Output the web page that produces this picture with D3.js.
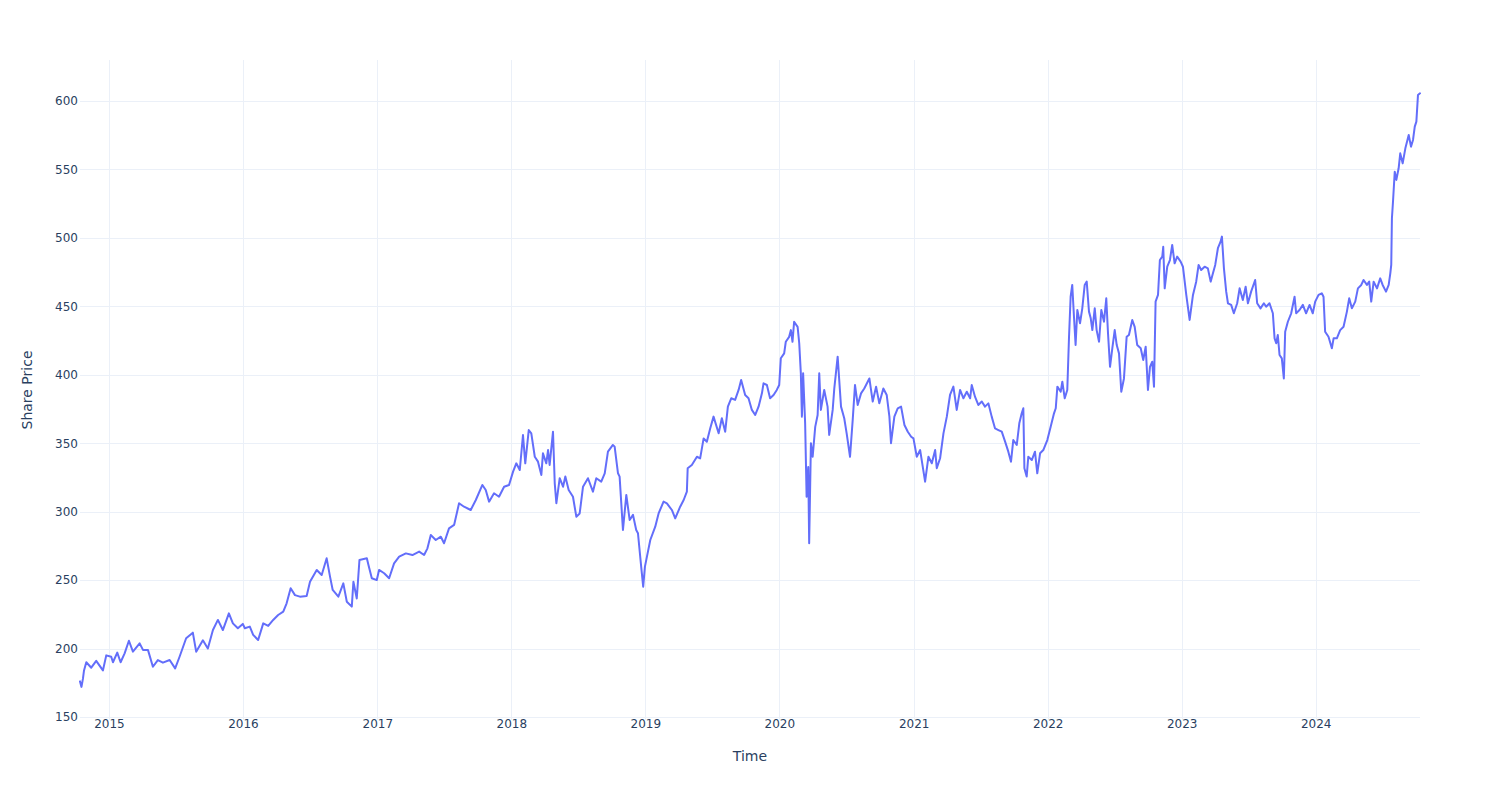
<!DOCTYPE html>
<html>
<head>
<meta charset="utf-8">
<script src="https://cdn.jsdelivr.net/npm/d3@7"></script>
<style>
  html, body { margin: 0; padding: 0; background: #fff; }
  svg { display: block; }
</style>
</head>
<body>
<svg id="chart" width="1500" height="800"></svg>
<script>
// Time as decimal years
const timeYears = [
2014.784,2014.795,2014.806,2014.814,2014.831,2014.868,2014.905,2014.955,2014.980,2015.017,
2015.030,2015.062,2015.087,2015.117,2015.149,2015.179,2015.229,2015.254,2015.291,2015.328,
2015.365,2015.403,2015.453,2015.494,2015.527,2015.576,2015.626,2015.651,2015.701,2015.738,
2015.776,2015.813,2015.850,2015.895,2015.925,2015.962,2015.999,2016.014,2016.051,2016.076,
2016.113,2016.151,2016.188,2016.225,2016.262,2016.300,2016.325,2016.355,2016.387,2016.424,
2016.474,2016.499,2016.549,2016.586,2016.623,2016.648,2016.668,2016.710,2016.747,2016.773,
2016.810,2016.822,2016.847,2016.867,2016.922,2016.934,2016.959,2016.996,2017.013,2017.051,
2017.088,2017.125,2017.163,2017.213,2017.262,2017.312,2017.349,2017.374,2017.399,2017.436,
2017.474,2017.498,2017.535,2017.573,2017.610,2017.647,2017.697,2017.735,2017.784,2017.809,
2017.834,2017.871,2017.908,2017.946,2017.983,2018.013,2018.037,2018.063,2018.087,2018.104,
2018.130,2018.149,2018.175,2018.199,2018.224,2018.236,2018.261,2018.274,2018.286,2018.311,
2018.324,2018.336,2018.361,2018.386,2018.403,2018.428,2018.460,2018.485,2018.510,2018.535,
2018.572,2018.609,2018.634,2018.671,2018.697,2018.721,2018.758,2018.771,2018.796,2018.808,
2018.833,2018.858,2018.883,2018.908,2018.932,2018.945,2018.969,2018.984,2018.997,2019.012,
2019.037,2019.074,2019.099,2019.136,2019.161,2019.198,2019.223,2019.260,2019.286,2019.310,
2019.316,2019.347,2019.385,2019.409,2019.435,2019.459,2019.484,2019.509,2019.547,2019.571,
2019.596,2019.616,2019.641,2019.670,2019.696,2019.715,2019.745,2019.770,2019.795,2019.820,
2019.845,2019.870,2019.882,2019.907,2019.931,2019.957,2019.981,2019.999,2020.011,2020.036,
2020.048,2020.073,2020.086,2020.098,2020.110,2020.136,2020.148,2020.160,2020.168,2020.177,
2020.192,2020.203,2020.215,2020.222,2020.235,2020.248,2020.267,2020.285,2020.297,2020.309,
2020.334,2020.359,2020.371,2020.397,2020.409,2020.434,2020.459,2020.483,2020.501,2020.526,
2020.546,2020.563,2020.583,2020.608,2020.632,2020.670,2020.695,2020.720,2020.744,2020.774,
2020.799,2020.819,2020.831,2020.856,2020.881,2020.906,2020.931,2020.956,2020.981,2020.998,
2021.023,2021.048,2021.085,2021.110,2021.135,2021.160,2021.172,2021.197,2021.222,2021.247,
2021.271,2021.296,2021.321,2021.346,2021.371,2021.396,2021.421,2021.433,2021.458,2021.482,
2021.508,2021.532,2021.557,2021.582,2021.607,2021.632,2021.657,2021.682,2021.706,2021.726,
2021.743,2021.769,2021.788,2021.806,2021.818,2021.826,2021.843,2021.855,2021.881,2021.905,
2021.922,2021.943,2021.967,2021.997,2022.022,2022.047,2022.060,2022.072,2022.097,2022.109,
2022.127,2022.146,2022.159,2022.171,2022.183,2022.196,2022.208,2022.221,2022.241,2022.258,
2022.276,2022.291,2022.308,2022.321,2022.333,2022.351,2022.365,2022.383,2022.400,2022.420,
2022.437,2022.450,2022.465,2022.482,2022.500,2022.515,2022.532,2022.549,2022.569,2022.589,
2022.606,2022.631,2022.649,2022.668,2022.694,2022.713,2022.731,2022.748,2022.763,2022.780,
2022.793,2022.805,2022.823,2022.837,2022.855,2022.862,2022.873,2022.892,2022.912,2022.929,
2022.947,2022.966,2022.992,2023.009,2023.034,2023.059,2023.084,2023.108,2023.126,2023.145,
2023.171,2023.195,2023.216,2023.233,2023.250,2023.270,2023.290,2023.300,2023.315,2023.332,
2023.345,2023.369,2023.389,2023.414,2023.432,2023.456,2023.477,2023.494,2023.518,2023.548,
2023.563,2023.588,2023.613,2023.630,2023.655,2023.680,2023.693,2023.705,2023.717,2023.730,
2023.747,2023.762,2023.772,2023.792,2023.817,2023.842,2023.854,2023.879,2023.904,2023.928,
2023.954,2023.978,2023.996,2024.021,2024.045,2024.058,2024.070,2024.095,2024.120,2024.133,
2024.157,2024.182,2024.207,2024.232,2024.249,2024.269,2024.294,2024.314,2024.339,2024.356,
2024.381,2024.398,2024.413,2024.431,2024.456,2024.480,2024.498,2024.523,2024.543,2024.555,
2024.562,2024.567,2024.575,2024.588,2024.600,2024.617,2024.629,2024.647,2024.667,2024.692,
2024.709,2024.724,2024.737,2024.749,2024.761,2024.776
];

// Share price values
const sharePrice = [
176.0,172.0,178.0,184.0,190.0,186.0,191.0,184.0,195.0,194.0,
190.0,197.0,190.0,196.5,205.7,197.7,203.8,199.0,199.0,186.7,
191.6,189.7,191.6,185.5,194.0,207.5,211.6,197.7,206.0,200.0,
213.5,220.9,213.5,225.7,218.4,214.8,218.0,214.8,216.0,210.0,
206.2,218.4,216.5,220.9,224.5,226.9,233.0,244.0,239.0,237.9,
238.4,248.8,257.4,253.7,265.9,252.5,242.8,237.9,247.6,234.2,
230.6,248.8,236.6,264.7,265.9,261.0,251.3,250.0,257.4,255.0,
251.3,262.2,267.1,269.5,268.3,270.8,268.3,273.2,282.9,279.3,
281.7,276.9,287.8,290.3,306.1,303.6,301.2,308.5,319.5,315.8,
307.3,313.4,310.9,318.2,319.5,329.2,335.3,330.4,356.0,335.3,
359.6,357.2,340.1,336.5,326.8,342.6,335.3,345.0,334.1,358.4,
320.7,306.1,324.4,318.2,325.6,315.8,310.9,296.3,298.7,318.2,
324.4,314.6,324.4,321.9,328.0,343.8,348.7,347.5,328.0,325.6,
286.6,312.2,293.9,297.6,286.6,284.2,259.8,245.2,259.8,267.1,
279.3,289.0,298.7,307.3,306.1,301.2,295.1,303.6,308.5,314.6,
331.7,334.1,340.1,338.9,353.5,351.1,360.8,369.4,357.2,368.2,
358.4,376.7,382.8,381.6,388.9,396.2,385.2,382.8,374.3,370.6,
376.7,386.4,393.7,392.5,382.8,385.2,388.9,392.5,412.0,415.6,
424.1,427.7,432.6,424.1,438.7,435.0,423.0,401.0,369.4,401.0,
364.5,310.9,332.6,276.9,350.0,340.1,361.9,370.6,401.0,374.3,
388.9,376.7,356.0,374.3,390.0,413.2,376.7,368.2,357.2,340.1,
367.0,392.5,377.9,386.4,390.0,397.3,380.4,391.3,379.1,390.0,
385.2,369.4,350.0,369.4,375.5,376.7,363.3,358.4,354.7,353.5,
340.1,345.0,321.9,340.1,335.3,345.0,331.7,339.0,357.2,369.4,
385.2,391.3,374.3,388.9,382.8,387.6,382.8,392.5,383.8,377.9,
380.4,376.7,379.1,369.4,360.8,359.6,358.4,351.1,343.8,336.5,
352.3,348.7,364.5,371.8,375.5,331.7,325.6,340.1,337.7,343.8,
328.0,342.6,345.0,352.3,362.0,371.8,375.5,391.3,387.6,394.9,
382.8,388.9,427.7,457.0,465.6,442.4,421.7,447.3,437.6,448.5,
465.6,468.0,446.1,441.2,432.6,448.5,432.6,424.1,447.3,438.7,
455.8,430.2,405.8,419.3,432.6,421.7,415.6,387.6,397.3,427.7,
429.0,440.0,435.0,421.7,419.3,410.8,420.5,388.9,405.8,409.5,
391.3,453.4,458.3,483.8,486.3,493.5,463.1,478.9,483.8,494.8,
481.4,486.3,482.6,478.9,458.3,440.0,458.3,468.0,480.2,476.5,
478.9,477.7,468.0,474.1,480.2,492.4,497.2,500.9,477.7,460.7,
452.2,451.0,444.9,452.2,463.1,454.6,464.3,452.2,460.7,469.2,
452.2,448.5,452.2,449.7,452.2,444.9,426.6,423.0,429.0,414.4,
412.0,397.3,431.4,438.7,444.9,457.0,444.9,447.3,451.0,444.9,
451.0,444.9,453.4,458.3,459.5,457.0,431.4,427.7,419.3,426.6,
426.6,432.6,435.0,446.1,455.8,448.5,453.4,463.1,465.6,469.2,
465.6,468.0,453.4,468.0,463.1,470.4,465.6,460.7,465.6,474.1,
480.2,514.3,526.4,548.3,542.3,550.8,561.7,554.4,565.4,575.1,
566.6,571.5,581.2,584.9,604.4,605.6
];

const yTickValues = [150, 200, 250, 300, 350, 400, 450, 500, 550, 600];
const xTickYears = [2015, 2016, 2017, 2018, 2019, 2020, 2021, 2022, 2023, 2024];

function yearToDate(t) {
  const y = Math.floor(t);
  const s = Date.UTC(y, 0, 1), e = Date.UTC(y + 1, 0, 1);
  return new Date(s + (t - y) * (e - s));
}

const data = timeYears.map((t, i) => ({ date: yearToDate(t), value: sharePrice[i] }));

const W = 1500, H = 800;
const margin = { left: 80, right: 80, top: 60, bottom: 80 };
const x0 = margin.left, x1 = W - margin.right, y0 = margin.top, y1 = H - margin.bottom;

const svg = d3.select("#chart");
const font = "'DejaVu Sans', Verdana, sans-serif";
const textColor = "#2a3f5f";
const gridColor = "#ebf0f8";

const x = d3.scaleUtc().domain(d3.extent(data, d => d.date)).range([x0, x1]);
const y = d3.scaleLinear().domain([147.8, 629.9]).range([y1, y0]);

// Grid lines
const xTicks = xTickYears.map(yr => new Date(Date.UTC(yr, 0, 1)));
svg.append("g").selectAll("line").data(xTicks).join("line")
  .attr("x1", d => Math.round(x(d)) + 0.5).attr("x2", d => Math.round(x(d)) + 0.5)
  .attr("y1", y0).attr("y2", y1)
  .attr("stroke", gridColor).attr("stroke-width", 1);
svg.append("g").selectAll("line").data(yTickValues).join("line")
  .attr("x1", x0).attr("x2", x1)
  .attr("y1", d => Math.round(y(d)) + 0.5).attr("y2", d => Math.round(y(d)) + 0.5)
  .attr("stroke", gridColor).attr("stroke-width", 1);

// Axes (labels only, using d3 axes)
const xAxis = d3.axisBottom(x).tickValues(xTicks).tickFormat(d3.utcFormat("%Y")).tickSize(0).tickPadding(6);
const gx = svg.append("g").attr("transform", `translate(0,${y1})`).call(xAxis);
gx.select(".domain").remove();
gx.selectAll("text").attr("fill", textColor).attr("font-family", font).attr("font-size", 12)
  .attr("dy", "0.2em");

const yAxis = d3.axisLeft(y).tickValues(yTickValues).tickSize(0).tickPadding(2);
const gy = svg.append("g").attr("transform", `translate(${x0},0)`).call(yAxis);
gy.select(".domain").remove();
gy.selectAll("text").attr("fill", textColor).attr("font-family", font).attr("font-size", 12);

// Line
const line = d3.line().x(d => x(d.date)).y(d => y(d.value));
svg.append("path").datum(data)
  .attr("d", line)
  .attr("fill", "none")
  .attr("stroke", "#636efa")
  .attr("stroke-width", 2)
  .attr("stroke-linejoin", "round")
  .attr("stroke-linecap", "round");

// Axis titles
svg.append("text").attr("x", (x0 + x1) / 2).attr("y", 761)
  .attr("text-anchor", "middle").attr("fill", textColor)
  .attr("font-family", font).attr("font-size", 14).text("Time");
svg.append("text")
  .attr("transform", `translate(32,${(y0 + y1) / 2}) rotate(-90)`)
  .attr("text-anchor", "middle").attr("fill", textColor)
  .attr("font-family", font).attr("font-size", 14).text("Share Price");
</script>
</body>
</html>
